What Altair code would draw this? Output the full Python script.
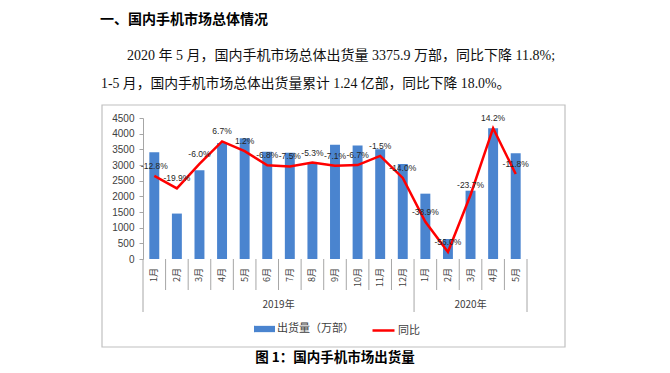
import altair as alt
import pandas as pd

# ---------------- data ----------------
years = ["2019年"] * 12 + ["2020年"] * 5
months = ["1月", "2月", "3月", "4月", "5月", "6月", "7月", "8月", "9月", "10月", "11月", "12月",
          "1月", "2月", "3月", "4月", "5月"]
shipments = [3405, 1450, 2830, 3700, 3850, 3420, 3390, 3060, 3650, 3620, 3500, 3030,
             2085, 638, 2180, 4170, 3376]
yoy = [-12.8, -19.9, -6.0, 6.7, 1.2, -6.8, -7.5, -5.3, -7.1, -6.7, -1.5, -14.0,
       -38.9, -56.0, -23.7, 14.2, -11.8]

left_ticks = [0, 500, 1000, 1500, 2000, 2500, 3000, 3500, 4000, 4500]
right_ticks = [-60, -50, -40, -30, -20, -10, 0, 10, 20]

bar_name = "出货量（万部）"
line_name = "同比"

heading = "一、国内手机市场总体情况"
para1 = "2020 年 5 月，国内手机市场总体出货量 3375.9 万部，同比下降 11.8%;"
para2 = "1-5 月，国内手机市场总体出货量累计 1.24 亿部，同比下降 18.0%。"
caption = "图 1：国内手机市场出货量"

BLUE = "#4a84cf"
RED = "#ff0000"
GRAY = "#a6a6a6"
TXT = "#404040"
NUM_FONT = "Liberation Sans"
CJK = "Noto Sans CJK SC"

keys = [f"{y}-{m}" for y, m in zip(years, months)]
df = pd.DataFrame({
    "key": keys, "year": years, "month": months,
    "ship": shipments, "yoy": yoy,
})
df["label"] = [f"{v:.1f}%" for v in yoy]
df["s_bar"] = bar_name
df["s_line"] = line_name

xscale = alt.Scale(domain=keys, paddingInner=0, paddingOuter=0)
W, H = 384, 141

# ---------------- layers ----------------
bars = alt.Chart(df).mark_bar(width={"band": 0.44}).encode(
    x=alt.X("key:N", scale=xscale, axis=alt.Axis(
        title=None, labels=False, ticks=False, domainColor=GRAY)),
    y=alt.Y("ship:Q", scale=alt.Scale(domain=[0, 4500], nice=False), axis=alt.Axis(
        title=None, values=left_ticks, format="d", grid=False, tickSize=4, labelPadding=5,
        domainColor=GRAY, tickColor=GRAY, labelFont=NUM_FONT, labelFontSize=10,
        labelColor=TXT)),
    color=alt.Color("s_bar:N", scale=alt.Scale(domain=[bar_name], range=[BLUE]),
                    legend=alt.Legend(title=None, orient="none", legendX=111, legendY=200.5,
                                      symbolType="M-1,-0.3H1V0.3H-1Z", symbolSize=441,
                                      symbolStrokeWidth=0, labelOffset=2, padding=0,
                                      labelFont=CJK, labelFontSize=11, labelColor=TXT)),
)

month_text = alt.Chart(df).mark_text(angle=270, align="right", baseline="middle",
                                     font=CJK, fontSize=9, color=TXT).encode(
    x=alt.X("key:N", scale=xscale, axis=None),
    y=alt.value(H + 9),
    text="month:N",
)

yscale_r = alt.Scale(domain=[-60, 20], nice=False)
line = alt.Chart(df).mark_line(strokeWidth=2.5).encode(
    x=alt.X("key:N", scale=xscale, axis=None),
    y=alt.Y("yoy:Q", scale=yscale_r, axis=alt.Axis(
        orient="right", title=None, values=right_ticks, grid=False,
        labelExpr="datum.value + '%'", tickSize=4, labelPadding=4,
        domainColor=GRAY, tickColor=GRAY, labelFont=NUM_FONT, labelFontSize=10,
        labelColor=TXT)),
    stroke=alt.Stroke("s_line:N", scale=alt.Scale(domain=[line_name], range=[RED]),
                      legend=alt.Legend(title=None, orient="none", legendX=228, legendY=200,
                                        symbolType="stroke", symbolSize=484,
                                        symbolStrokeWidth=2.5, labelOffset=2, padding=0,
                                        labelFont=CJK, labelFontSize=11, labelColor=TXT)),
)

labels = alt.Chart(df).mark_text(dy=-10, fontSize=8.5, font=NUM_FONT, color="#262626").encode(
    x=alt.X("key:N", scale=xscale, axis=None),
    y=alt.Y("yoy:Q", scale=yscale_r, axis=None),
    text="label:N",
)

# category separators under the axis
short_df = pd.DataFrame({"key": [k for i, k in enumerate(keys) if i not in (0, 12)]})
long_start_df = pd.DataFrame({"key": [keys[0], keys[12]]})
long_end_df = pd.DataFrame({"key": [keys[-1]]})

short_rules = alt.Chart(short_df).mark_rule(color=GRAY, strokeWidth=1).encode(
    x=alt.X("key:N", scale=xscale, axis=None, bandPosition=0),
    y=alt.value(H), y2=alt.value(H + 31))
long_rules = alt.Chart(long_start_df).mark_rule(color=GRAY, strokeWidth=1).encode(
    x=alt.X("key:N", scale=xscale, axis=None, bandPosition=0),
    y=alt.value(H), y2=alt.value(H + 53))
end_rule = alt.Chart(long_end_df).mark_rule(color=GRAY, strokeWidth=1).encode(
    x=alt.X("key:N", scale=xscale, axis=None, bandPosition=1),
    y=alt.value(H), y2=alt.value(H + 53))

y19 = pd.DataFrame({"key": [keys[5]], "year": [years[0]]})
y20 = pd.DataFrame({"key": [keys[14]], "year": [years[12]]})
year19 = alt.Chart(y19).mark_text(font=CJK, fontSize=10, color=TXT).encode(
    x=alt.X("key:N", scale=xscale, axis=None, bandPosition=1),
    y=alt.value(H + 46), text="year:N")
year20 = alt.Chart(y20).mark_text(font=CJK, fontSize=10, color=TXT).encode(
    x=alt.X("key:N", scale=xscale, axis=None, bandPosition=0.5),
    y=alt.value(H + 46), text="year:N")

# page decorations: frame, heading, paragraph, caption
one = pd.DataFrame({"a": [0]})
frame = alt.Chart(one).mark_rect(fillOpacity=0, stroke="#c0c0c0", strokeWidth=1.2).encode(
    x=alt.value(-41), x2=alt.value(422), y=alt.value(-13), y2=alt.value(229))
head = alt.Chart(one).mark_text(font=CJK, fontSize=14, fontWeight="bold", align="left",
                                baseline="middle", color="#000000").encode(
    x=alt.value(-43), y=alt.value(-98), text=alt.value(heading))
p1 = alt.Chart(one).mark_text(font="Liberation Serif, Noto Sans CJK SC", fontSize=14,
                              align="left", baseline="middle", color="#111111").encode(
    x=alt.value(-16), y=alt.value(-62), text=alt.value(para1))
p2 = alt.Chart(one).mark_text(font="Liberation Serif, Noto Sans CJK SC", fontSize=13.8,
                              align="left", baseline="middle", color="#111111").encode(
    x=alt.value(-42), y=alt.value(-34), text=alt.value(para2))
cap = alt.Chart(one).mark_text(font=CJK, fontSize=13.5, fontWeight="bold", align="center",
                               baseline="middle", color="#000000").encode(
    x=alt.value(192), y=alt.value(240), text=alt.value(caption))

chart = alt.layer(
    frame, bars, month_text, alt.layer(line, labels),
    short_rules, long_rules, end_rule, year19, year20, head, p1, p2, cap,
).resolve_scale(y="independent", color="independent", stroke="independent").properties(
    width=W, height=H,
    padding={"left": 135, "top": 110, "right": 135, "bottom": 106},
    autosize=alt.AutoSizeParams(type="none"),
).configure_view(stroke=None)

chart.save("out.html", embed_options={"renderer": "svg", "actions": False})
